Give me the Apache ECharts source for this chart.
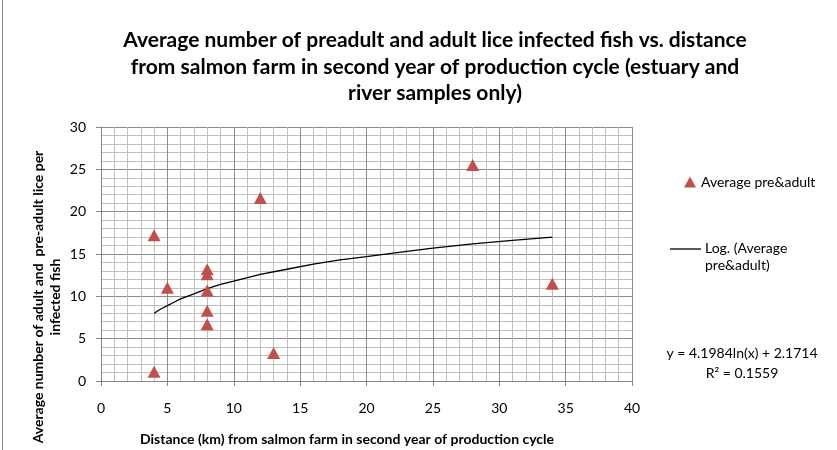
<!DOCTYPE html>
<html>
<head>
<meta charset="utf-8">
<script src="https://cdn.jsdelivr.net/npm/echarts@6/dist/echarts.min.js"></script>
<style>
  html, body { margin: 0; padding: 0; background: #fff; }
  #chart { width: 837px; height: 450px; }
</style>
</head>
<body>
<div id="chart"></div>
<script>
// distance (km) vs average pre-adult + adult lice per infected fish
const distanceKm = [4, 4, 5, 8, 8, 8, 8, 8, 12, 13, 28, 34];
const avgLice = [17.2, 1.1, 11.0, 13.2, 12.6, 10.7, 8.3, 6.7, 21.6, 3.3, 25.5, 11.5];

// log trendline
const trendX = [4, 4.5, 5, 5.5, 6, 7, 8, 9, 10, 12, 14, 16, 18, 20, 22, 25, 28, 31, 34];
const trendY = [8.0, 8.5, 8.9, 9.3, 9.7, 10.3, 10.9, 11.4, 11.8, 12.6, 13.2, 13.8, 14.3, 14.7, 15.1, 15.7, 16.2, 16.6, 17.0];

const xTicks = [0, 5, 10, 15, 20, 25, 30, 35, 40];
const yTicks = [0, 5, 10, 15, 20, 25, 30];

const FONT = "Lato";
const RED = "#C0504D";

const chart = echarts.init(document.getElementById("chart"));

const axisCommon = {
  type: "value",
  interval: 5,
  axisLine: { show: true, lineStyle: { color: "#868686", width: 1 } },
  axisTick: { show: true, length: 5, lineStyle: { color: "#868686" } },
  axisLabel: { color: "#000", fontFamily: FONT, fontSize: 14 },
  splitLine: { show: true, lineStyle: { color: "#8c8c8c", width: 1 } },
  minorTick: { show: false, splitNumber: 5 },
  minorSplitLine: { show: true, lineStyle: { color: "#bfbfbf", width: 1 } },
};

chart.setOption({
  animation: false,
  backgroundColor: "#fff",
  title: {
    text: "Average number of preadult and adult lice infected fish vs. distance\nfrom salmon farm in second year of production cycle (estuary and\nriver samples only)",
    left: 430,
    top: 22,
    textAlign: "center",
    textStyle: { fontFamily: FONT, fontWeight: "bold", fontSize: 21, lineHeight: 26.5, color: "#000" },
  },
  legend: {
    data: [{ name: "Average pre&adult", icon: "triangle" }],
    left: 679,
    top: 170,
    itemWidth: 12,
    itemHeight: 11,
    itemGap: 10,
    textStyle: { fontFamily: FONT, fontSize: 14, color: "#000" },
  },
  grid: { left: 101, right: 205, top: 127, bottom: 69 },
  xAxis: Object.assign({}, axisCommon, {
    min: xTicks[0],
    max: xTicks[xTicks.length - 1],
    axisLabel: Object.assign({}, axisCommon.axisLabel, { margin: 20 }),
  }),
  yAxis: Object.assign({}, axisCommon, {
    min: yTicks[0],
    max: yTicks[yTicks.length - 1],
    axisLabel: Object.assign({}, axisCommon.axisLabel, { margin: 15 }),
  }),
  series: [
    {
      name: "Average pre&adult",
      type: "scatter",
      symbol: "triangle",
      symbolSize: [13, 12],
      itemStyle: { color: RED, opacity: 1 },
      data: distanceKm.map((d, i) => [d, avgLice[i]]),
      z: 3,
    },
    {
      name: "Log. (Average pre&adult)",
      type: "line",
      smooth: false,
      showSymbol: false,
      lineStyle: { color: "#000", width: 1.3 },
      data: trendX.map((d, i) => [d, trendY[i]]),
      z: 2,
    },
  ],
  graphic: [
    // left border of chart area
    { type: "line", shape: { x1: 2.5, y1: 0, x2: 2.5, y2: 450 }, style: { stroke: "#868686", lineWidth: 1 } },
    // y axis title
    {
      type: "text",
      x: 47, y: 297,
      rotation: Math.PI / 2,
      style: {
        text: "Average number of adult and  pre-adult lice per\ninfected fish",
        fontFamily: FONT, fontWeight: "bold", fontSize: 14, lineHeight: 17,
        align: "center", verticalAlign: "middle", fill: "#000",
      },
    },
    // x axis title
    {
      type: "text",
      x: 347, y: 439,
      style: {
        text: "Distance (km) from salmon farm in second year of production cycle",
        fontFamily: FONT, fontWeight: "bold", fontSize: 14,
        align: "center", verticalAlign: "middle", fill: "#000",
      },
    },
    // trendline legend
    { type: "line", shape: { x1: 670, y1: 249, x2: 701, y2: 249 }, style: { stroke: "#000", lineWidth: 1.3 } },
    {
      type: "text",
      x: 705, y: 257,
      style: {
        text: "Log. (Average\npre&adult)",
        fontFamily: FONT, fontSize: 14, lineHeight: 17,
        align: "left", verticalAlign: "middle", fill: "#000",
      },
    },
    // equation
    {
      type: "text",
      x: 742, y: 363,
      style: {
        text: "y = 4.1984ln(x) + 2.1714\nR² = 0.1559",
        fontFamily: FONT, fontSize: 14, lineHeight: 20,
        align: "center", verticalAlign: "middle", fill: "#000",
      },
    },
  ],
});
</script>
</body>
</html>
